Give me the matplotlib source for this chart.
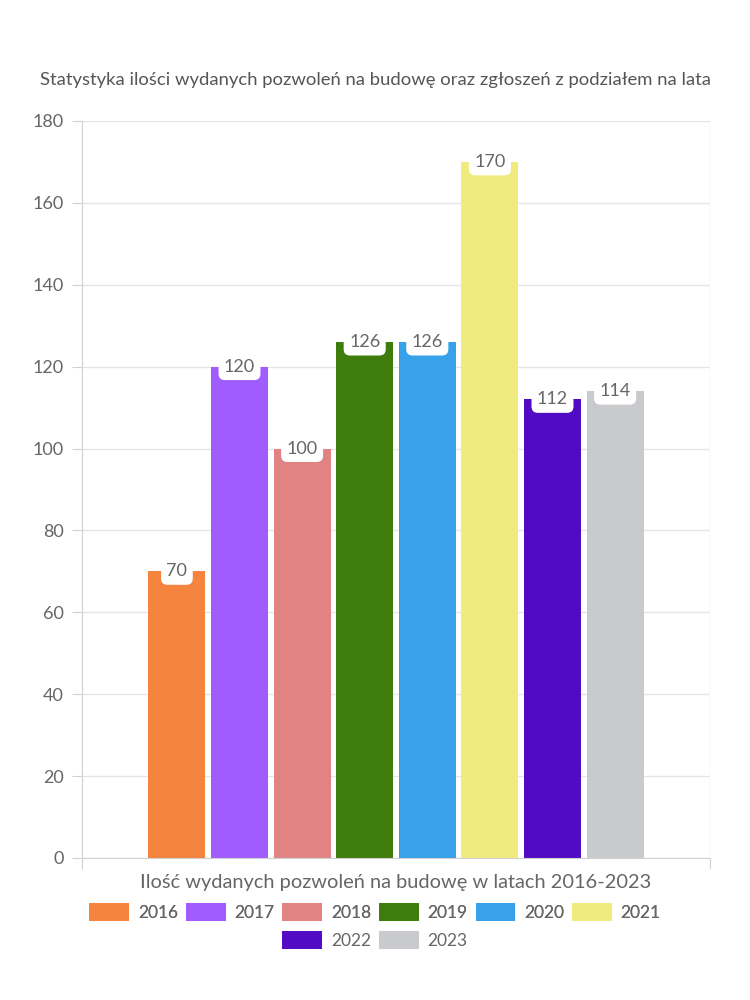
import matplotlib
matplotlib.use("Agg")
import matplotlib.pyplot as plt
from matplotlib.patches import Patch

years = ["2016", "2017", "2018", "2019", "2020", "2021", "2022", "2023"]
values = [70, 120, 100, 126, 126, 170, 112, 114]
colors = ["#F5843F", "#A05CFE", "#E18383", "#3E7C0C", "#37A2EA", "#F0EB7D", "#520BC4", "#C9CACE"]
yticks = [0, 20, 40, 60, 80, 100, 120, 140, 160, 180]
title = "Statystyka ilości wydanych pozwoleń na budowę oraz zgłoszeń z podziałem na lata"
xlabel = "Ilość wydanych pozwoleń na budowę w latach 2016-2023"

plt.rcParams['font.family'] = ['Lato', 'DejaVu Sans']
txt = "#666666"
grid = "#E6E6E6"

fig = plt.figure(figsize=(7.5, 10), dpi=100)
ax = fig.add_axes([82/750, 1-858/1000, (710-82)/750, (858-121)/1000])

pitch = 62.6 / 628
width = 57 / 628
n = len(values)
for i, (v, c) in enumerate(zip(values, colors)):
    x = (i - (n - 1) / 2) * pitch
    ax.bar(x, v, width=width, color=c, zorder=2)
    ax.text(x, v, str(v), ha='center', va='center', fontsize=13, color=txt, zorder=4,
            bbox=dict(boxstyle='round,pad=0.3,rounding_size=0.35', fc='white', ec='none'))

ax.set_xlim(-0.5, 0.5)
ax.set_ylim(0, 180)
ax.set_yticks(yticks)
ax.set_yticklabels([str(t) for t in yticks])
ax.set_xticks([-0.5, 0.5])
ax.set_xticklabels(["", ""])
ax.tick_params(axis='y', length=7, color="#D0D0D0", labelsize=13, labelcolor=txt, pad=6)
ax.tick_params(axis='x', length=8, color="#D0D0D0")
ax.grid(axis='y', color=grid, lw=1, zorder=0)
ax.axvline(0.5, color=grid, lw=1, zorder=0)
for s in ['top', 'right']:
    ax.spines[s].set_visible(False)
for s in ['left', 'bottom']:
    ax.spines[s].set_color("#D0D0D0")
ax.set_xlabel(xlabel, fontsize=14.4, color=txt, labelpad=0)

fig.text(0.5, 1-80/1000, title, ha='center', va='center', fontsize=13.3, color="#555555")

handles = [Patch(facecolor=c, edgecolor='none') for c in colors]
kw = dict(loc='center', frameon=False, fontsize=12.5, handlelength=2.3, handleheight=1.2,
          handletextpad=0.5, columnspacing=0.45, labelcolor=txt)
leg1 = fig.legend(handles[:6], years[:6], bbox_to_anchor=(0.5, 1-912/1000), ncol=6, **kw)
fig.add_artist(leg1)
leg2 = fig.legend(handles[6:], years[6:], bbox_to_anchor=(0.5, 1-940/1000), ncol=2, **kw)

fig.savefig("out.png", dpi=100, facecolor='white')
